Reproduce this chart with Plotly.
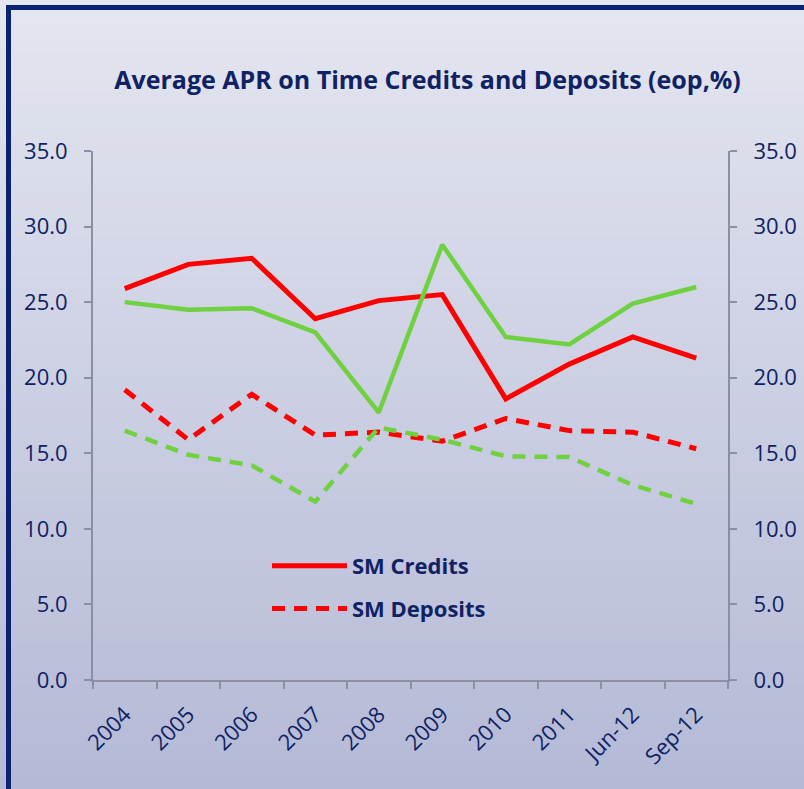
import plotly.graph_objects as go

categories = ["2004", "2005", "2006", "2007", "2008", "2009", "2010", "2011", "Jun-12", "Sep-12"]
sm_credits = [25.9, 27.5, 27.9, 23.9, 25.1, 25.5, 18.6, 20.9, 22.7, 21.3]
sm_deposits = [19.2, 15.9, 18.9, 16.2, 16.4, 15.8, 17.3, 16.5, 16.4, 15.3]
other_credits = [25.0, 24.5, 24.6, 23.0, 17.7, 28.8, 22.7, 22.2, 24.9, 26.0]
other_deposits = [16.5, 14.9, 14.2, 11.8, 16.7, 15.9, 14.8, 14.75, 12.9, 11.65]
y_ticks = [0, 5, 10, 15, 20, 25, 30, 35]
y_tick_labels = ["0.0", "5.0", "10.0", "15.0", "20.0", "25.0", "30.0", "35.0"]

W, H = 804, 789
ML, MR, MT, MB = 93, 76, 151, 109
PW, PH = W - ML - MR, H - MT - MB

NAVY = "#0F2263"
RED = "#FF0000"
GREEN = "#6FD140"
AXIS = "#8C8FA3"
FONT = "Open Sans"

def px_x(p):
    return (p - ML) / PW

def px_y(p):
    return (H - MB - p) / PH

fig = go.Figure()

fig.add_trace(go.Scatter(x=categories, y=sm_credits, name="<b>SM Credits</b>", mode="lines",
                         line=dict(color=RED, width=5), legendgroup="a"))
fig.add_trace(go.Scatter(x=categories, y=sm_deposits, name="<b>SM Deposits</b>", mode="lines",
                         line=dict(color=RED, width=5, dash="13px,9px"), legendgroup="b"))
fig.add_trace(go.Scatter(x=categories, y=other_credits, name="Credits", mode="lines",
                         line=dict(color=GREEN, width=4.5), yaxis="y2", showlegend=False))
fig.add_trace(go.Scatter(x=categories, y=other_deposits, name="Deposits", mode="lines",
                         line=dict(color=GREEN, width=4.5, dash="13px,9px"), yaxis="y2", showlegend=False))

# gradient background bands
shapes = []
N = 60
top = (228, 230, 240)
bot = (180, 185, 214)
for i in range(N):
    p0 = i * H / N
    p1 = (i + 1) * H / N + 1
    t = (i + 0.5) / N
    c = tuple(round(top[k] + (bot[k] - top[k]) * t) for k in range(3))
    shapes.append(dict(type="rect", xref="paper", yref="paper", layer="below",
                       x0=px_x(-5), x1=px_x(W + 5), y0=px_y(p1), y1=px_y(p0),
                       line=dict(width=0), fillcolor="rgb(%d,%d,%d)" % c))
shapes.append(dict(type="rect", xref="paper", yref="paper", layer="below",
                   x0=px_x(8.5), x1=px_x(W + 20), y0=px_y(H + 20), y1=px_y(7.5),
                   line=dict(width=5, color="#0A2370"), fillcolor="rgba(0,0,0,0)"))

tickfont = dict(family=FONT, size=22, color=NAVY)

fig.update_layout(
    width=W, height=H,
    margin=dict(l=ML, r=MR, t=MT, b=MB, autoexpand=False),
    paper_bgcolor="#E4E6EF",
    plot_bgcolor="rgba(0,0,0,0)",
    shapes=shapes,
    title=dict(text="<b>Average APR on Time Credits and Deposits (eop,%)</b>",
               x=427.5 / W, xanchor="center", xref="container",
               y=1 - 80 / H, yanchor="middle", yref="container",
               font=dict(family=FONT, size=25, color=NAVY)),
    xaxis=dict(type="category", range=[-0.5, 9.5], tickangle=-45,
               tickfont=dict(family=FONT, size=22, color=NAVY), automargin=False,
               showline=True, linecolor=AXIS, linewidth=2, ticks="outside", tickson="boundaries",
               ticklen=7, tickcolor=AXIS, tickwidth=2, showgrid=False, zeroline=False,
               ticklabelstandoff=11),
    yaxis=dict(range=[0, 35], tickvals=y_ticks, ticktext=y_tick_labels, tickfont=tickfont,
               automargin=False, ticklabelstandoff=12,
               showline=True, linecolor=AXIS, linewidth=2, ticks="outside", ticklen=7,
               tickcolor=AXIS, tickwidth=2, showgrid=False, zeroline=False),
    yaxis2=dict(range=[0, 35], tickvals=y_ticks, ticktext=y_tick_labels, tickfont=tickfont,
                overlaying="y", side="right", anchor="x", automargin=False, ticklabelstandoff=12,
                showline=True, linecolor=AXIS, linewidth=2, ticks="outside", ticklen=7,
                tickcolor=AXIS, tickwidth=2, showgrid=False, zeroline=False),
    legend=dict(x=px_x(267), y=px_y(545), xanchor="left", yanchor="top",
                bgcolor="rgba(0,0,0,0)", font=dict(family=FONT, size=22, color=NAVY),
                itemwidth=75, tracegroupgap=11, traceorder="grouped"),
    showlegend=True,
)

fig.write_html("out.html", config={"displayModeBar": False},
               post_script="document.body.style.margin='0px';")
